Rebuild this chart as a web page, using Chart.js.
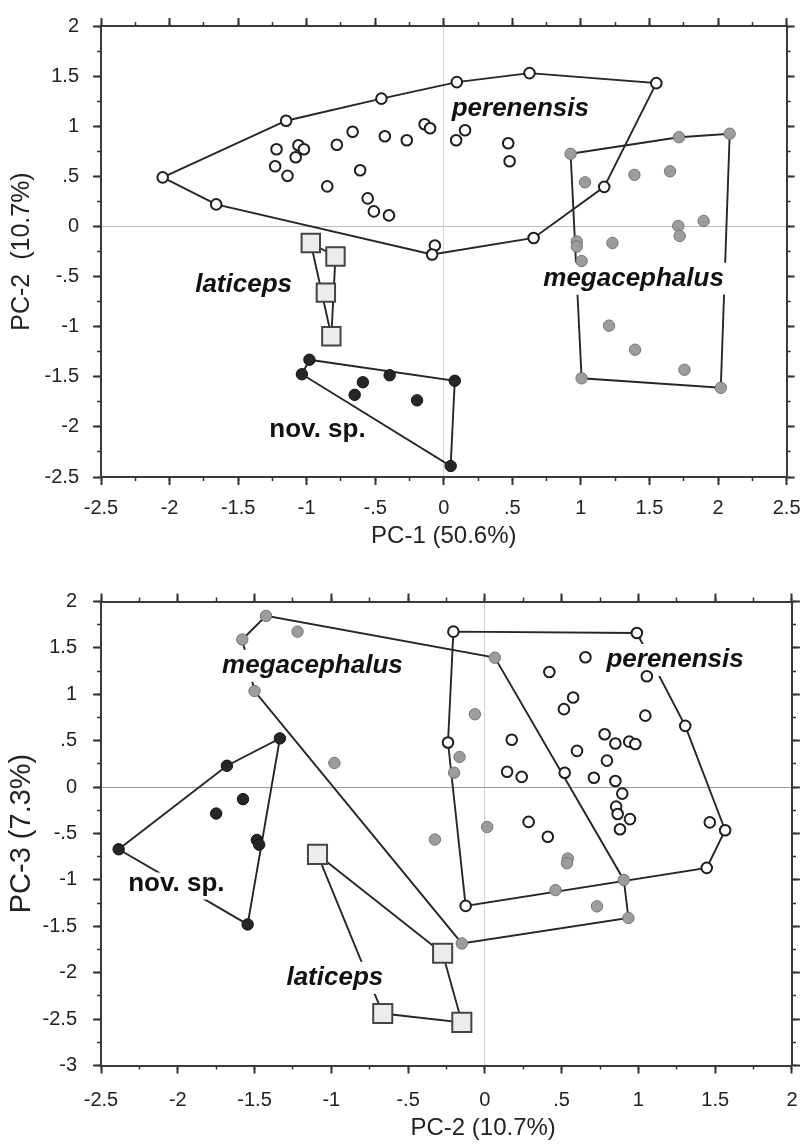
<!DOCTYPE html>
<html>
<head>
<meta charset="utf-8">
<script src="https://cdn.jsdelivr.net/npm/chart.js@4.4.0/dist/chart.umd.min.js"></script>
<style>
html,body{margin:0;padding:0;background:#fff;}
#wrap{position:relative;width:812px;height:1145px;overflow:hidden;}
canvas{position:absolute;left:0;}
#c1{top:0;}
#c2{top:560px;}
</style>
</head>
<body>
<div id="wrap">
<canvas id="c1" width="812" height="560"></canvas>
<canvas id="c2" width="812" height="585"></canvas>
</div>
<script>
// ---------------- DATA: top panel (PC-1 vs PC-2) ----------------
const topPerenensis = [[-2.05,0.49],[-1.66,0.22],[-1.15,1.055],[-0.455,1.275],[-1.22,0.77],[-1.23,0.60],[-1.14,0.505],[-1.08,0.69],[-1.06,0.81],[-1.02,0.77],[-0.85,0.40],[-0.78,0.815],[-0.665,0.945],[-0.61,0.56],[-0.555,0.28],[-0.51,0.15],[-0.40,0.11],[-0.43,0.90],[-0.27,0.86],[-0.14,1.02],[-0.10,0.98],[0.095,1.44],[0.09,0.86],[0.155,0.96],[0.625,1.53],[0.47,0.83],[0.48,0.65],[1.55,1.43],[1.17,0.395],[0.655,-0.115],[-0.065,-0.19],[-0.085,-0.28]];
const topPerenensisHull = [0,2,3,21,24,27,28,29,31,1,0];
const topMegacephalus = [[0.925,0.725],[1.715,0.89],[2.085,0.925],[1.03,0.44],[1.39,0.515],[1.65,0.55],[1.895,0.055],[1.71,0.005],[1.72,-0.095],[0.97,-0.15],[0.97,-0.20],[1.23,-0.165],[1.005,-0.345],[1.205,-0.99],[1.395,-1.23],[1.755,-1.43],[1.005,-1.515],[2.02,-1.61]];
const topMegacephalusHull = [0,1,2,17,16,0];
const topLaticeps = [[-0.97,-0.165],[-0.79,-0.30],[-0.86,-0.66],[-0.82,-1.095]];
const topLaticepsHull = [0,1,3,0];
const topNovSp = [[-0.98,-1.33],[-1.035,-1.475],[-0.59,-1.555],[-0.65,-1.68],[-0.395,-1.485],[-0.195,-1.735],[0.08,-1.54],[0.05,-2.39]];
const topNovSpHull = [0,6,7,1,0];
const topXTickLabels = ['-2.5','-2','-1.5','-1','-.5','0','.5','1','1.5','2','2.5'];
const topYTickLabels = ['-2.5','-2','-1.5','-1','-.5','0','.5','1','1.5','2'];
const topLabels = [
  {text:'perenensis', x:0.558, y:1.17, italic:true},
  {text:'megacephalus', x:1.384, y:-0.521, italic:true},
  {text:'laticeps', x:-1.46, y:-0.585, italic:true},
  {text:'nov. sp.', x:-0.921, y:-2.058, italic:false}
];

// ---------------- DATA: bottom panel (PC-2 vs PC-3) ----------------
const botPerenensis = [[-0.205,1.675],[0.99,1.66],[0.655,1.40],[0.42,1.24],[1.055,1.195],[1.305,0.66],[1.565,-0.465],[1.465,-0.38],[0.575,0.965],[0.515,0.84],[1.045,0.77],[0.175,0.51],[-0.24,0.48],[0.60,0.39],[0.78,0.57],[0.85,0.47],[0.94,0.49],[0.98,0.465],[0.795,0.285],[0.145,0.165],[0.24,0.11],[0.52,0.155],[0.71,0.10],[0.85,0.065],[0.895,-0.07],[0.855,-0.21],[0.865,-0.29],[0.945,-0.345],[0.88,-0.455],[0.285,-0.375],[0.41,-0.535],[1.445,-0.87],[-0.125,-1.28]];
const botPerenensisHull = [0,1,5,6,31,32,12,0];
const botMegacephalus = [[-1.58,1.59],[-1.425,1.845],[-1.22,1.675],[-1.50,1.035],[-0.98,0.26],[0.065,1.395],[-0.065,0.785],[-0.165,0.325],[-0.20,0.155],[0.015,-0.43],[-0.325,-0.565],[0.54,-0.77],[0.535,-0.82],[0.46,-1.11],[0.905,-1.0],[0.73,-1.285],[0.935,-1.41],[-0.15,-1.685]];
const botMegacephalusHull = [0,1,5,14,16,17,3,0];
const botLaticeps = [[-1.09,-0.725],[-0.665,-2.44],[-0.275,-1.79],[-0.15,-2.535]];
const botLaticepsHull = [0,2,3,1,0];
const botNovSp = [[-1.335,0.525],[-1.68,0.23],[-1.575,-0.13],[-1.75,-0.285],[-1.485,-0.57],[-1.47,-0.62],[-2.385,-0.67],[-1.545,-1.48]];
const botNovSpHull = [6,1,0,7,6];
const botXTickLabels = ['-2.5','-2','-1.5','-1','-.5','0','.5','1','1.5','2'];
const botYTickLabels = ['-3','-2.5','-2','-1.5','-1','-.5','0','.5','1','1.5','2'];
const botLabels = [
  {text:'megacephalus', x:-1.123, y:1.307, italic:true},
  {text:'perenensis', x:1.239, y:1.37, italic:true},
  {text:'nov. sp.', x:-2.009, y:-1.066, italic:false},
  {text:'laticeps', x:-0.977, y:-2.055, italic:true}
];

// ---------------- STYLES ----------------
const FONT = "'Liberation Sans', Arial, Helvetica, sans-serif";
const STYLES = {
  perenensis:   {pointStyle:'circle', radius:5.3, bg:'#ffffff', border:'#1e1e1e', bw:2},
  megacephalus: {pointStyle:'circle', radius:5.7, bg:'#9c9c9c', border:'#747474', bw:1},
  laticeps:     {pointStyle:'rect',   radius:13,  bg:'#ececec', border:'#444444', bw:2},
  novsp:        {pointStyle:'circle', radius:5.7, bg:'#262626', border:'#111111', bw:1}
};

const speciesLabelPlugin = {
  id: 'speciesLabels',
  afterDatasetDraw(chart, args, opts) {
    if (args.index !== opts.afterIndex) return;
    const ctx = chart.ctx;
    const xs = chart.scales.x, ys = chart.scales.y;
    ctx.save();
    for (const l of opts.items) {
      const px = xs.getPixelForValue(l.x), py = ys.getPixelForValue(l.y);
      ctx.font = (l.italic ? 'italic ' : '') + 'bold 26px ' + FONT;
      ctx.textAlign = 'center';
      ctx.textBaseline = 'alphabetic';
      const m = ctx.measureText(l.text);
      const asc = m.actualBoundingBoxAscent, desc = m.actualBoundingBoxDescent;
      const base = py + (asc - desc) / 2;
      ctx.fillStyle = '#ffffff';
      ctx.fillRect(px - m.width / 2 - 3, base - asc - 4, m.width + 6, asc + desc + 8);
      ctx.fillStyle = '#111111';
      ctx.fillText(l.text, px, base);
    }
    ctx.restore();
  }
};

function labelFmt(labels) {
  return function(v) {
    const l = labels.find(s => Math.abs(parseFloat(s) - v) < 1e-6);
    return l === undefined ? '' : l;
  };
}

function makeChart(id, spec) {
  const datasets = [];
  spec.groups.forEach(g => datasets.push({
    type: 'scatter',
    data: g.pts.map(p => ({x: p[0], y: p[1]})),
    pointStyle: g.style.pointStyle,
    pointRadius: g.style.radius,
    pointHoverRadius: g.style.radius,
    backgroundColor: g.style.bg,
    borderColor: g.style.border,
    borderWidth: g.style.bw,
    showLine: false
  }));
  spec.groups.forEach(g => datasets.push({
    type: 'scatter',
    data: g.hull.map(i => ({x: g.pts[i][0], y: g.pts[i][1]})),
    showLine: true,
    pointRadius: 0,
    pointHoverRadius: 0,
    borderColor: '#262626',
    borderWidth: 1.9,
    backgroundColor: 'rgba(0,0,0,0)',
    fill: false,
    tension: 0
  }));
  const tickFont = {family: FONT, size: 20};
  const minorX = (pos) => ({
    type: 'linear', position: pos, min: spec.xMin, max: spec.xMax, weight: 0,
    ticks: {display: false, stepSize: 0.25, autoSkip: false},
    grid: {drawOnChartArea: false, tickLength: 4, tickColor: '#333', tickWidth: 1.5},
    border: {display: false},
    afterFit: s => { s.height = 0; }
  });
  const minorY = (pos) => ({
    type: 'linear', position: pos, min: spec.yMin, max: spec.yMax, weight: 0,
    ticks: {display: false, stepSize: 0.25, autoSkip: false},
    grid: {drawOnChartArea: false, tickLength: 4, tickColor: '#333', tickWidth: 1.5},
    border: {display: false},
    afterFit: s => { s.width = 0; }
  });
  return new Chart(document.getElementById(id), {
    data: {datasets},
    plugins: [speciesLabelPlugin],
    options: {
      responsive: false,
      animation: false,
      events: [],
      layout: {padding: {top: spec.padTop, right: spec.padRight, left: 0, bottom: 0}},
      plugins: {
        legend: {display: false},
        tooltip: {enabled: false},
        speciesLabels: {afterIndex: spec.groups.length, items: spec.labels}
      },
      scales: {
        x: {
          type: 'linear', position: 'bottom', min: spec.xMin, max: spec.xMax, weight: 1,
          ticks: {stepSize: 0.5, autoSkip: false, maxRotation: 0, padding: spec.xTickPad, color: '#222', font: tickFont, callback: labelFmt(spec.xTicks)},
          grid: {color: c => (c.tick && c.tick.value === 0) ? spec.x0Color : 'rgba(0,0,0,0)', lineWidth: 1, tickColor: '#333', tickLength: 8, tickWidth: 2, drawOnChartArea: true},
          border: {display: true, color: '#3a3a3a', width: 2},
          title: {display: true, text: spec.xTitle, color: '#222', font: {family: FONT, size: 24}, padding: {top: 0, bottom: spec.xTitlePadB}},
          afterFit: s => { s.height = spec.xAxisH; }
        },
        xMinor: minorX('bottom'),
        xTop: {
          type: 'linear', position: 'top', min: spec.xMin, max: spec.xMax, weight: 1,
          ticks: {display: false, stepSize: 0.5, autoSkip: false},
          grid: {drawOnChartArea: false, tickLength: 8, tickColor: '#333', tickWidth: 2},
          border: {display: true, color: '#3a3a3a', width: 2},
          afterFit: s => { s.height = 8; }
        },
        xTopMinor: minorX('top'),
        y: {
          type: 'linear', position: 'left', min: spec.yMin, max: spec.yMax, weight: 1,
          ticks: {stepSize: 0.5, autoSkip: false, padding: spec.yTickPad, color: '#222', font: tickFont, callback: labelFmt(spec.yTicks)},
          grid: {color: c => (c.tick && c.tick.value === 0) ? spec.y0Color : 'rgba(0,0,0,0)', lineWidth: 1, tickColor: '#333', tickLength: 8, tickWidth: 2, drawOnChartArea: true},
          border: {display: true, color: '#3a3a3a', width: 2},
          title: {display: true, text: spec.yTitle, color: '#222', font: {family: FONT, size: spec.yTitleSize}, padding: {top: spec.yTitlePad, bottom: 0}},
          afterFit: s => { s.width = 101; }
        },
        yMinor: minorY('left'),
        yRight: {
          type: 'linear', position: 'right', min: spec.yMin, max: spec.yMax, weight: 1,
          ticks: {display: false, stepSize: 0.5, autoSkip: false},
          grid: {drawOnChartArea: false, tickLength: 8, tickColor: '#333', tickWidth: 2},
          border: {display: true, color: '#3a3a3a', width: 2},
          afterFit: s => { s.width = 8; }
        },
        yRightMinor: minorY('right')
      }
    }
  });
}

makeChart('c1', {
  groups: [
    {pts: topPerenensis, hull: topPerenensisHull, style: STYLES.perenensis},
    {pts: topMegacephalus, hull: topMegacephalusHull, style: STYLES.megacephalus},
    {pts: topLaticeps, hull: topLaticepsHull, style: STYLES.laticeps},
    {pts: topNovSp, hull: topNovSpHull, style: STYLES.novsp}
  ],
  labels: topLabels,
  xMin: -2.5, xMax: 2.5, yMin: -2.5, yMax: 2,
  xTicks: topXTickLabels, yTicks: topYTickLabels,
  xTitle: 'PC-1 (50.6%)', yTitle: 'PC-2  (10.7%)', yTitleSize: 25, yTitlePad: 7.5,
  xTickPad: 11.5, yTickPad: 14, xTitlePadB: 9.6, xAxisH: 83,
  padTop: 4.5, padRight: 7,
  x0Color: '#d6d6d6', y0Color: '#bdbdbd'
});

makeChart('c2', {
  groups: [
    {pts: botPerenensis, hull: botPerenensisHull, style: STYLES.perenensis},
    {pts: botMegacephalus, hull: botMegacephalusHull, style: STYLES.megacephalus},
    {pts: botLaticeps, hull: botLaticepsHull, style: Object.assign({}, STYLES.laticeps, {radius: 13.5})},
    {pts: botNovSp, hull: botNovSpHull, style: STYLES.novsp}
  ],
  labels: botLabels,
  xMin: -2.5, xMax: 2, yMin: -3, yMax: 2,
  xTicks: botXTickLabels, yTicks: botYTickLabels,
  xTitle: ' '.repeat(11) + 'PC-2 (10.7%)', yTitle: 'PC-3 (7.3%)', yTitleSize: 29, yTitlePad: 4.5,
  xTickPad: 14.5, yTickPad: 16, xTitlePadB: 2, xAxisH: 79.5,
  padTop: 33.5, padRight: 8,
  x0Color: '#d0d0d0', y0Color: '#9a9a9a'
});
</script>
</body>
</html>
